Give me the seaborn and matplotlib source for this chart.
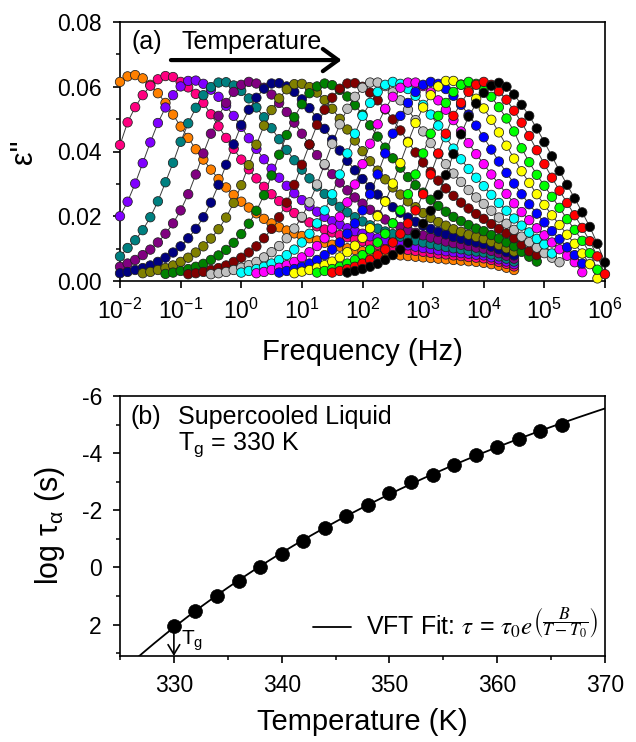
import numpy as np
import pandas as pd
import matplotlib
matplotlib.use("Agg")
import matplotlib.pyplot as plt
from matplotlib.lines import Line2D
from matplotlib.ticker import (MultipleLocator, FixedLocator, LogLocator,
                               NullLocator, FormatStrFormatter)
import seaborn as sns

# ---------------- panel (a): dielectric loss spectra ----------------
LOG_F_STEP = 0.125  # measurement grid: 8 points per decade
temps_a = [334, 336, 338, 340, 342, 344, 346, 348, 350, 352, 354, 356, 358, 360, 362, 364, 366]
colors_a = ['#FF8000', '#FF0080', '#8000FF', '#008080', '#800080', '#000080', '#808000',
            '#008000', '#800000', '#C0C0C0', '#00FFFF', '#FF00FF', '#0000FF', '#FFFF00',
            '#00FF00', '#FF0000', '#000000']
log_f_first = [-2.0, -2.0, -2.0, -2.0, -2.0, -2.0, -1.625, -1.25, -0.875, -0.5,
               0.0, 0.25, 0.625, 0.875, 1.25, 1.5, 1.75]

eps_334 = [.0615, .0632, .0636, .0626, .0606, .0580, .0550, .0514, .0477, .0442, .0407, .0375,
           .0344, .0315, .0289, .0266, .0245, .0227, .0209, .0192, .0178, .0166, .0156, .0147,
           .0139, .0132, .0125, .0118, .0112, .0106, .0101, .0096, .0092, .0089, .0086, .0083,
           .0081, .0079, .0077, .0075, .0073, .0071, .0069, .0067, .0065, .0063, .0061, .0059,
           .0056, .0052, .0047, .0041, .0034]
eps_336 = [.0420, .0490, .0537, .0574, .0603, .0623, .0633, .0630, .0615, .0598, .0578, .0550,
           .0515, .0478, .0442, .0408, .0375, .0345, .0317, .0291, .0268, .0247, .0228, .0210,
           .0195, .0181, .0169, .0159, .0150, .0142, .0135, .0128, .0122, .0116, .0112, .0108,
           .0104, .0100, .0096, .0093, .0090, .0087, .0084, .0082, .0079, .0077, .0074, .0072,
           .0070, .0065, .0059, .0053, .0045]
eps_338 = [.0200, .0245, .0301, .0364, .0428, .0488, .0536, .0574, .0601, .0618, .0619, .0609,
           .0591, .0569, .0541, .0510, .0476, .0441, .0408, .0376, .0347, .0319, .0294, .0271,
           .0250, .0231, .0214, .0198, .0185, .0174, .0163, .0154, .0146, .0138, .0132, .0126,
           .0120, .0115, .0110, .0106, .0102, .0099, .0095, .0092, .0089, .0086, .0084, .0081,
           .0079, .0073, .0067, .0060, .0052]
eps_340 = [.0076, .0102, .0126, .0157, .0197, .0246, .0305, .0365, .0430, .0487, .0535, .0574,
           .0599, .0613, .0614, .0604, .0587, .0564, .0536, .0506, .0472, .0438, .0405, .0373,
           .0344, .0317, .0292, .0269, .0248, .0229, .0212, .0197, .0184, .0172, .0162, .0153,
           .0145, .0137, .0131, .0125, .0119, .0114, .0109, .0105, .0101, .0098, .0094, .0091,
           .0088, .0082, .0076, .0069, .0060]
eps_342 = [.0044, .0054, .0065, .0080, .0097, .0119, .0146, .0178, .0218, .0268, .0329, .0394,
           .0455, .0510, .0550, .0584, .0606, .0615, .0610, .0597, .0576, .0550, .0522, .0489,
           .0455, .0421, .0389, .0358, .0330, .0304, .0280, .0258, .0239, .0220, .0204, .0190,
           .0178, .0167, .0157, .0149, .0141, .0134, .0128, .0122, .0117, .0112, .0108, .0103,
           .0100, .0093, .0086, .0078, .0069]
eps_344 = [.0024, .0028, .0034, .0040, .0048, .0059, .0072, .0088, .0107, .0132, .0161, .0197,
           .0242, .0297, .0359, .0422, .0482, .0529, .0566, .0594, .0610, .0611, .0601, .0584,
           .0561, .0534, .0503, .0470, .0436, .0403, .0371, .0342, .0315, .0290, .0267, .0247,
           .0228, .0211, .0196, .0183, .0171, .0161, .0152, .0144, .0136, .0130, .0124, .0119,
           .0114, .0106, .0098, .0089, .0079]
eps_346 = [.0024, .0028, .0034, .0040, .0048, .0059, .0072, .0088, .0107, .0131, .0160, .0196,
           .0241, .0296, .0358, .0421, .0480, .0528, .0564, .0592, .0608, .0609, .0599, .0582,
           .0559, .0532, .0501, .0468, .0434, .0401, .0370, .0341, .0314, .0289, .0267, .0246,
           .0228, .0210, .0195, .0182, .0171, .0160, .0152, .0143, .0136, .0130, .0121, .0111,
           .0101, .0091]
eps_348 = [.0022, .0026, .0031, .0037, .0044, .0053, .0065, .0079, .0096, .0118, .0145, .0177,
           .0217, .0265, .0326, .0390, .0451, .0506, .0546, .0580, .0601, .0610, .0605, .0590,
           .0570, .0543, .0514, .0481, .0446, .0412, .0379, .0350, .0321, .0296, .0273, .0251,
           .0232, .0214, .0198, .0185, .0173, .0162, .0154, .0142, .0131, .0119, .0107, .0090,
           .0075, .0060]
eps_350 = [.0021, .0024, .0028, .0034, .0040, .0048, .0059, .0072, .0088, .0107, .0132, .0161,
           .0197, .0242, .0297, .0359, .0422, .0482, .0529, .0566, .0594, .0610, .0611, .0600,
           .0582, .0558, .0530, .0499, .0465, .0430, .0397, .0366, .0337, .0310, .0286, .0263,
           .0242, .0224, .0207, .0192, .0176, .0161, .0147, .0132, .0112, .0092, .0080]
eps_352 = [.0021, .0024, .0028, .0034, .0041, .0049, .0059, .0073, .0089, .0108, .0132, .0162,
           .0198, .0243, .0298, .0361, .0424, .0484, .0532, .0569, .0597, .0613, .0613, .0602,
           .0583, .0558, .0529, .0497, .0462, .0426, .0392, .0361, .0332, .0306, .0281, .0258,
           .0238, .0217, .0196, .0177, .0158, .0137, .0120, .0103, .0086, .0072, .0058]
eps_354 = [.0026, .0031, .0037, .0044, .0054, .0065, .0080, .0097, .0119, .0146, .0178, .0218,
           .0268, .0329, .0394, .0455, .0510, .0550, .0584, .0606, .0615, .0609, .0593, .0572,
           .0544, .0514, .0480, .0444, .0409, .0376, .0346, .0319, .0293, .0266, .0241, .0217,
           .0193, .0171, .0150, .0130, .0113, .0085]
eps_356 = [.0024, .0028, .0034, .0041, .0049, .0059, .0073, .0089, .0108, .0132, .0162, .0198,
           .0243, .0298, .0361, .0424, .0484, .0532, .0569, .0597, .0613, .0613, .0602, .0583,
           .0558, .0529, .0497, .0462, .0426, .0392, .0361, .0329, .0299, .0269, .0240, .0213,
           .0188, .0163, .0141, .0119, .0098, .0078, .0058, .0027]
eps_358 = [.0026, .0031, .0037, .0044, .0054, .0065, .0080, .0097, .0119, .0146, .0178, .0218,
           .0268, .0329, .0394, .0455, .0510, .0550, .0584, .0606, .0615, .0609, .0593, .0572,
           .0544, .0514, .0480, .0444, .0406, .0369, .0334, .0301, .0268, .0237, .0208, .0181,
           .0154, .0129, .0104, .0080, .0054]
eps_360 = [.0024, .0029, .0034, .0041, .0049, .0060, .0073, .0089, .0109, .0133, .0163, .0200,
           .0245, .0301, .0364, .0428, .0488, .0536, .0574, .0601, .0618, .0618, .0607, .0588,
           .0563, .0533, .0498, .0459, .0418, .0378, .0339, .0303, .0268, .0235, .0203, .0173,
           .0143, .0115, .0085, .0052, .0008]
eps_362 = [.0026, .0031, .0037, .0044, .0054, .0065, .0080, .0097, .0119, .0146, .0178, .0218,
           .0268, .0329, .0394, .0455, .0510, .0550, .0584, .0606, .0615, .0609, .0593, .0569,
           .0537, .0502, .0462, .0410, .0367, .0328, .0294, .0260, .0226, .0191, .0158, .0124,
           .0086, .0035]
eps_364 = [.0026, .0031, .0037, .0044, .0054, .0065, .0080, .0097, .0119, .0146, .0178, .0218,
           .0268, .0329, .0394, .0455, .0510, .0550, .0584, .0606, .0615, .0606, .0586, .0560,
           .0526, .0489, .0448, .0404, .0361, .0319, .0279, .0241, .0203, .0164, .0123, .0076,
           .0021]
eps_366 = [.0026, .0031, .0037, .0044, .0053, .0065, .0080, .0097, .0118, .0145, .0177, .0217,
           .0266, .0327, .0392, .0453, .0508, .0548, .0581, .0603, .0612, .0600, .0576, .0544,
           .0510, .0471, .0429, .0385, .0340, .0297, .0255, .0212, .0167, .0115, .0057]

eps_lists = [eps_334, eps_336, eps_338, eps_340, eps_342, eps_344, eps_346, eps_348, eps_350,
             eps_352, eps_354, eps_356, eps_358, eps_360, eps_362, eps_364, eps_366]

# ---------------- panel (b): relaxation map ----------------
temps_b = [330, 332, 334, 336, 338, 340, 342, 344, 346, 348, 350, 352, 354, 356, 358, 360, 362, 364, 366]
log_tau = [2.05, 1.52, 1.0, 0.46, -0.02, -0.48, -0.93, -1.38, -1.79, -2.2, -2.62, -2.99,
           -3.25, -3.58, -3.93, -4.21, -4.51, -4.78, -5.0]

# ---------------- build tables ----------------
rows = []
for T, f0, eps in zip(temps_a, log_f_first, eps_lists):
    for i, e in enumerate(eps):
        rows.append((f"{T} K", 10 ** (f0 + LOG_F_STEP * i), e))
df_a = pd.DataFrame(rows, columns=["T", "freq", "eps"])
labels_a = [f"{T} K" for T in temps_a]
palette_a = dict(zip(labels_a, colors_a))

df_b = pd.DataFrame({"T": temps_b, "logtau": log_tau})

# VFT fit  log(tau) = A + B/(T - T0), least squares with grid search on T0
Tb = np.array(temps_b, float)
yb = np.array(log_tau, float)
best = None
for T0 in np.arange(150.0, 325.0, 0.1):
    X = np.vstack([np.ones_like(Tb), 1.0 / (Tb - T0)]).T
    coef = np.linalg.lstsq(X, yb, rcond=None)[0]
    r = np.sum((X @ coef - yb) ** 2)
    if best is None or r < best[0]:
        best = (r, T0, coef)
_, T0_fit, (A_fit, B_fit) = best
T_line = np.linspace(325, 370, 300)
df_fit = pd.DataFrame({"T": T_line, "logtau": A_fit + B_fit / (T_line - T0_fit)})

# ---------------- style ----------------
sns.set_theme(style="ticks")
plt.rcParams.update({
    "font.family": ["Liberation Sans", "DejaVu Sans"],
    "axes.unicode_minus": False,
    "mathtext.fontset": "custom",
    "mathtext.rm": "Liberation Sans",
    "mathtext.it": "Liberation Sans:italic",
    "mathtext.bf": "Liberation Sans:bold",
    "text.color": "black",
    "axes.labelcolor": "black",
    "axes.edgecolor": "black",
    "xtick.color": "black",
    "ytick.color": "black",
    "axes.linewidth": 1.2,
})

W, H = 636, 742
fig = plt.figure(figsize=(W / 100, H / 100), dpi=100)
ax1 = fig.add_axes([120 / W, 1 - 281 / H, 485 / W, 259 / H])
ax2 = fig.add_axes([120 / W, 1 - 656 / H, 485 / W, 260 / H])

# ---- panel (a) ----
sns.lineplot(data=df_a, x="freq", y="eps", units="T", estimator=None, sort=False,
             color="#3a3a3a", lw=0.7, ax=ax1, legend=False)
sns.scatterplot(data=df_a, x="freq", y="eps", hue="T", hue_order=labels_a, palette=palette_a,
                s=46, edgecolor="#1e1e1e", linewidth=0.55, legend=False, ax=ax1,
                zorder=3, clip_on=False)
ax1.set_xscale("log")
ax1.set_xlim(1e-2, 1e6)
ax1.set_ylim(0, 0.08)
ax1.xaxis.set_major_locator(LogLocator(base=10, numticks=20))
ax1.xaxis.set_minor_locator(NullLocator())
ax1.yaxis.set_major_locator(MultipleLocator(0.02))
ax1.yaxis.set_minor_locator(MultipleLocator(0.01))
ax1.yaxis.set_major_formatter(FormatStrFormatter("%.2f"))
ax1.set_xlabel("Frequency (Hz)", fontsize=21)
ax1.set_ylabel('ε"', fontsize=22)
ax1.xaxis.set_label_coords(0.5, -0.22)
ax1.yaxis.set_label_coords(-0.168, 0.5)

ax1.text(0.024, 0.922, "(a)", transform=ax1.transAxes, fontsize=18, ha="left", va="center")
ax1.text(0.271, 0.922, "Temperature", transform=ax1.transAxes, fontsize=18,
         ha="center", va="center")
ax1.annotate("", xy=(0.457, 0.853), xytext=(0.105, 0.853), xycoords="axes fraction",
             arrowprops=dict(arrowstyle="->,head_length=0.55,head_width=0.4", lw=3.0,
                             color="black", shrinkA=0, shrinkB=0, mutation_scale=20))

# ---- panel (b) ----
sns.lineplot(data=df_fit, x="T", y="logtau", estimator=None, sort=False, color="black",
             lw=1.3, ax=ax2, legend=False)
sns.scatterplot(data=df_b, x="T", y="logtau", color="black", s=100, edgecolor="black",
                linewidth=0.5, ax=ax2, zorder=3, legend=False, clip_on=False)
ax2.set_xlim(325, 370)
ax2.set_ylim(3.1, -6)
ax2.xaxis.set_major_locator(MultipleLocator(10))
ax2.xaxis.set_minor_locator(MultipleLocator(5))
ax2.yaxis.set_major_locator(FixedLocator([-6, -4, -2, 0, 2]))
ax2.yaxis.set_minor_locator(FixedLocator([-5, -3, -1, 1, 3]))
ax2.set_xlabel("Temperature (K)", fontsize=21)
ax2.set_ylabel(r"log $\mathregular{\tau_{\alpha}}$ (s)", fontsize=22)
ax2.xaxis.set_label_coords(0.5, -0.2)
ax2.yaxis.set_label_coords(-0.11, 0.5)

ax2.text(0.021, 0.918, "(b)", transform=ax2.transAxes, fontsize=18, ha="left", va="center")
ax2.text(0.12, 0.918, "Supercooled Liquid", transform=ax2.transAxes, fontsize=18,
         ha="left", va="center")
ax2.text(0.12, 0.812, r"T$_\mathregular{g}$ = 330 K", transform=ax2.transAxes, fontsize=18,
         ha="left", va="center")
ax2.annotate("", xy=(330, 3.1), xytext=(330, 2.32), xycoords="data",
             arrowprops=dict(arrowstyle="->,head_length=0.5,head_width=0.3", lw=1.2,
                             color="black", shrinkA=0, shrinkB=0, mutation_scale=14))
ax2.text(330.7, 2.55, r"T$_\mathregular{g}$", fontsize=15, ha="left", va="center")

leg_handle = Line2D([], [], color="black", lw=1.3)
leg = ax2.legend([leg_handle],
                 [r"VFT Fit: $\tau$ = $\tau_0 e^{\left(\dfrac{B}{T-T_0}\right)}$"],
                 loc="center right", bbox_to_anchor=(0.985, 0.125), frameon=False,
                 fontsize=18, handlelength=1.5, handletextpad=0.6, borderpad=0,
                 borderaxespad=0)
for t in leg.get_texts():
    t.set_math_fontfamily("stix")

for ax in (ax1, ax2):
    ax.tick_params(which="major", direction="out", length=5, width=1.2, labelsize=16.5,
                   pad=8, top=False, right=False)
    ax.tick_params(which="minor", direction="out", length=3, width=1.1, top=False,
                   right=False)
    for sp in ax.spines.values():
        sp.set_visible(True)
        sp.set_linewidth(1.2)

fig.savefig("out.png", dpi=100)
